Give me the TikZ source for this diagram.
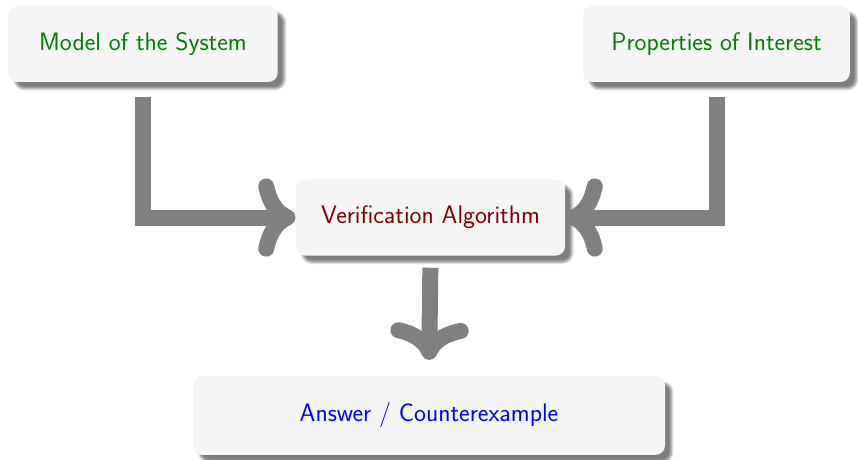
\documentclass[tikz,border=0pt]{standalone}
\usetikzlibrary{shadows.blur,arrows.meta}
\renewcommand{\familydefault}{\sfdefault}
\begin{document}
\begin{tikzpicture}[x=0.75pt,y=-0.75pt,
  box/.style={fill=black!4, rounded corners=7pt, inner sep=0pt, minimum height=57pt,
    font=\fontsize{19}{22}\selectfont,
    blur shadow={shadow xshift=5pt, shadow yshift=-5pt, shadow blur steps=6, shadow opacity=50}},
  flow/.style={draw=black!50, line width=12pt, -{To}},
]
\useasboundingbox (0,0) rectangle (858,460);
\node[box, minimum width=202pt, text=green!50!black] (model) at (143,44) {Model of the System};
\node[box, minimum width=200pt, text=green!50!black] (props) at (716.5,44) {Properties of Interest};
\node[box, minimum width=202pt, text=red!50!black] (verif) at (430.5,217.5) {Verification Algorithm};
\node[box, minimum width=354pt, minimum height=59pt, text=blue] (answer) at (429,415.5) {Answer / Counterexample};
\draw[flow, shorten <=11pt] (model.south) |- (verif.west);
\draw[flow, shorten <=11pt] (props.south) |- (verif.east);
\draw[flow, shorten <=9pt, shorten >=12pt] (verif.south) -- (answer.north);
\end{tikzpicture}
\end{document}
